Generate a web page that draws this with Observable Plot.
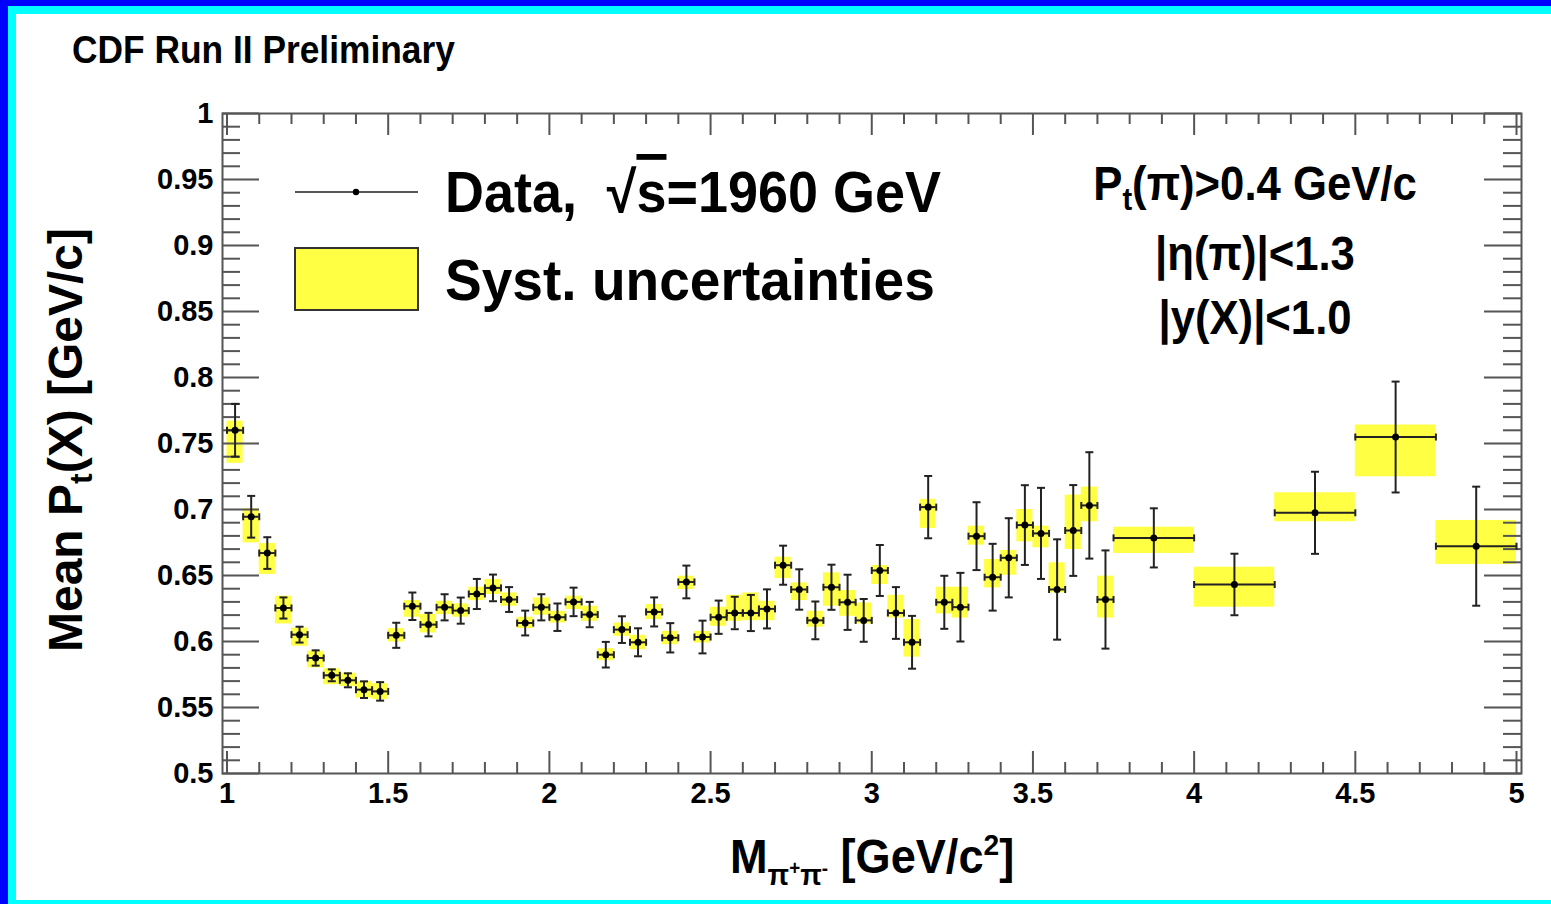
<!DOCTYPE html>
<html><head><meta charset="utf-8">
<script src="https://cdn.jsdelivr.net/npm/d3@7"></script>
<script src="https://cdn.jsdelivr.net/npm/@observablehq/plot@0.6"></script>
<style>
html,body{margin:0;padding:0;background:#fff;}
#wrap{position:relative;width:1551px;height:904px;overflow:hidden;background:#fff;}
#chart{position:absolute;left:0;top:0;}
.ov{position:absolute;left:0;top:0;pointer-events:none;}
.bar{position:absolute;}
.ov text{white-space:pre;}
</style></head>
<body>
<div id="wrap">
<div id="chart"></div>
<svg class="ov" width="1551" height="904" xmlns="http://www.w3.org/2000/svg">
<g font-family="'Liberation Sans', Arial, Helvetica, sans-serif" font-weight="bold" fill="#000">
  <text transform="translate(72,63) scale(0.93,1)" font-size="38">CDF Run II Preliminary</text>
  <line x1="295" x2="418" y1="192" y2="192" stroke="#555" stroke-width="2"/>
  <circle cx="356" cy="192" r="3.2" fill="#000"/>
  <rect x="295" y="248" width="123" height="62" fill="#ffff44" stroke="#333" stroke-width="2"/>
  <text transform="translate(445,212) scale(0.93,1)" font-size="58">Data,  √<tspan text-decoration="overline">s</tspan>=1960 GeV</text>
  <text transform="translate(445,300) scale(0.95,1)" font-size="58">Syst. uncertainties</text>
  <text transform="translate(1255,200) scale(0.91,1)" text-anchor="middle" font-size="48">P<tspan font-size="32" dy="10">t</tspan><tspan dy="-10">(π)&gt;0.4 GeV/c</tspan></text>
  <text transform="translate(1255,270) scale(0.91,1)" text-anchor="middle" font-size="48">|η(π)|&lt;1.3</text>
  <text transform="translate(1255,334) scale(0.91,1)" text-anchor="middle" font-size="48">|y(X)|&lt;1.0</text>
  <text transform="translate(82,440) rotate(-90)" text-anchor="middle" font-size="48">Mean P<tspan font-size="32" dy="10">t</tspan><tspan dy="-10">(X) [GeV/c]</tspan></text>
  <text transform="translate(730,873) scale(0.94,1)" font-size="48">M<tspan font-size="30" dy="12">π</tspan><tspan font-size="20" dy="-10">+</tspan><tspan font-size="30" dy="10">π</tspan><tspan font-size="20" dy="-10">-</tspan><tspan font-size="48" dy="-2"> [GeV/c</tspan><tspan font-size="30" dy="-18">2</tspan><tspan font-size="48" dy="18">]</tspan></text>
</g>
</svg>
<div class="bar" style="left:0;top:0;width:1551px;height:6px;background:#0000ff"></div>
<div class="bar" style="left:0;top:0;width:8px;height:904px;background:#0000ff"></div>
<div class="bar" style="left:8px;top:6px;width:1543px;height:8px;background:#00ffff"></div>
<div class="bar" style="left:8px;top:6px;width:8px;height:898px;background:#00ffff"></div>
<div class="bar" style="left:8px;top:900px;width:1543px;height:4px;background:#00ffff"></div>
</div>
<script>
// ---- data ----
const mass = [1.025,1.075,1.125,1.175,1.225,1.275,1.325,1.375,1.425,1.475,
  1.525,1.575,1.625,1.675,1.725,1.775,1.825,1.875,1.925,1.975,
  2.025,2.075,2.125,2.175,2.225,2.275,2.325,2.375,2.425,2.475,
  2.525,2.575,2.625,2.675,2.725,2.775,2.825,2.875,2.925,2.975,
  3.025,3.075,3.125,3.175,3.225,3.275,3.325,3.375,3.425,3.475,
  3.525,3.575,3.625,3.675,3.725,
  3.875,4.125,4.375,4.625,4.875];
const halfWidth = [0.025,0.025,0.025,0.025,0.025,0.025,0.025,0.025,0.025,0.025,
  0.025,0.025,0.025,0.025,0.025,0.025,0.025,0.025,0.025,0.025,
  0.025,0.025,0.025,0.025,0.025,0.025,0.025,0.025,0.025,0.025,
  0.025,0.025,0.025,0.025,0.025,0.025,0.025,0.025,0.025,0.025,
  0.025,0.025,0.025,0.025,0.025,0.025,0.025,0.025,0.025,0.025,
  0.025,0.025,0.025,0.025,0.025,
  0.125,0.125,0.125,0.125,0.125];
const meanPt = [0.760,0.6945,0.667,0.6254,0.6052,0.5875,0.5744,0.5706,0.5635,0.5622,
  0.6047,0.6267,0.6128,0.6259,0.6234,0.636,0.6406,0.6318,0.614,0.6259,
  0.6184,0.630,0.6204,0.590,0.609,0.5994,0.6224,0.6028,0.6451,0.6034,
  0.6184,0.6216,0.6216,0.6247,0.6578,0.6394,0.616,0.6411,0.6297,0.616,
  0.6538,0.6216,0.5994,0.7018,0.6297,0.626,0.6798,0.6487,0.6634,0.6882,
  0.6819,0.6394,0.6841,0.7031,0.6318,
  0.6785,0.6432,0.6975,0.7549,0.6722];
const statErr = [0.020,0.0158,0.012,0.008,0.006,0.0058,0.0045,0.0053,0.0063,0.007,
  0.0095,0.0104,0.0089,0.0099,0.0099,0.0114,0.0101,0.0094,0.0094,0.0099,
  0.0104,0.0108,0.0096,0.0097,0.0101,0.0106,0.011,0.0111,0.0124,0.0124,
  0.0126,0.0123,0.0137,0.0148,0.0148,0.0153,0.0143,0.0171,0.0209,0.0162,
  0.0193,0.0196,0.020,0.0236,0.0201,0.026,0.0257,0.0253,0.030,0.0302,
  0.0345,0.038,0.0344,0.0403,0.0372,
  0.0224,0.0233,0.0311,0.042,0.0451];
const systLow = [0.735,0.6747,0.6508,0.6133,0.5964,0.580,0.5673,0.566,0.5571,0.556,
  0.5996,0.6184,0.6065,0.6204,0.6184,0.631,0.6356,0.6267,0.6098,0.6199,
  0.614,0.6242,0.6153,0.5855,0.6039,0.5938,0.6166,0.5976,0.6394,0.5989,
  0.6115,0.6153,0.6158,0.6158,0.6477,0.631,0.6108,0.6267,0.6191,0.6133,
  0.6432,0.6178,0.5882,0.6857,0.6209,0.6178,0.673,0.6406,0.6502,0.6755,
  0.671,0.6368,0.6697,0.6907,0.6178,
  0.6667,0.626,0.6907,0.7248,0.6583];
const systHigh = [0.767,0.7005,0.6743,0.6343,0.6102,0.5926,0.5794,0.576,0.5698,0.568,
  0.6098,0.631,0.6204,0.6305,0.6285,0.6411,0.647,0.6368,0.6184,0.633,
  0.6229,0.6343,0.6267,0.5946,0.614,0.6047,0.628,0.6077,0.6495,0.6077,
  0.6259,0.635,0.6368,0.6305,0.6639,0.6444,0.6229,0.652,0.6386,0.6292,
  0.6576,0.635,0.6166,0.7077,0.6411,0.6411,0.6874,0.6621,0.669,0.700,
  0.6874,0.6596,0.7109,0.717,0.6495,
  0.6866,0.6563,0.7127,0.764,0.6917];
const xTickValues = [1,1.5,2,2.5,3,3.5,4,4.5,5];
const xTickLabels = ["1","1.5","2","2.5","3","3.5","4","4.5","5"];
const yTickValues = [0.5,0.55,0.6,0.65,0.7,0.75,0.8,0.85,0.9,0.95,1];
const yTickLabels = ["0.5","0.55","0.6","0.65","0.7","0.75","0.8","0.85","0.9","0.95","1"];

// ---- layout ----
const W = 1551, H = 904;
const mL = 222, mR = 30, mT = 113, mB = 131;
const frameW = W - mL - mR, frameH = H - mT - mB;
const xMinor = d3.range(10, 51).map(k => k / 10).filter(v => !xTickValues.some(t => Math.abs(t - v) < 1e-9));
const yMinor = d3.range(50, 101).map(k => k / 100).filter(v => !yTickValues.some(t => Math.abs(t - v) < 1e-9));

const rows = mass.map((m, i) => ({
  m, lo: m - halfWidth[i], hi: m + halfWidth[i],
  v: meanPt[i], e: statErr[i], sl: systLow[i], sh: systHigh[i]
}));

const hCap = {draw(ctx, size) { const r = Math.sqrt(size / Math.PI); ctx.moveTo(-r, 0); ctx.lineTo(r, 0); }};
const vCap = {draw(ctx, size) { const r = Math.sqrt(size / Math.PI); ctx.moveTo(0, -r); ctx.lineTo(0, r); }};
const ink = "#222";
const axisInk = "#555";
const font = "'Liberation Sans', Arial, Helvetica, sans-serif";

const chart = Plot.plot({
  width: W, height: H,
  marginLeft: mL, marginRight: mR, marginTop: mT, marginBottom: mB,
  x: {domain: [0.986, 5.0155], axis: null},
  y: {domain: [0.5, 1], axis: null},
  style: {background: "#fff", fontFamily: font, color: "#000"},
  marks: [
    Plot.rect(rows, {x1: "lo", x2: "hi", y1: "sl", y2: "sh", fill: "#ffff44"}),
    // frame ticks
    Plot.tickX(xMinor, {x: d => d, insetTop: frameH - 11, stroke: axisInk, strokeWidth: 2}),
    Plot.tickX(xMinor, {x: d => d, insetBottom: frameH - 11, stroke: axisInk, strokeWidth: 2}),
    Plot.tickX(xTickValues, {x: d => d, insetTop: frameH - 22, stroke: axisInk, strokeWidth: 2}),
    Plot.tickX(xTickValues, {x: d => d, insetBottom: frameH - 22, stroke: axisInk, strokeWidth: 2}),
    Plot.tickY(yMinor, {y: d => d, insetRight: frameW - 18, stroke: axisInk, strokeWidth: 2}),
    Plot.tickY(yMinor, {y: d => d, insetLeft: frameW - 18, stroke: axisInk, strokeWidth: 2}),
    Plot.tickY(yTickValues, {y: d => d, insetRight: frameW - 37, stroke: axisInk, strokeWidth: 2}),
    Plot.tickY(yTickValues, {y: d => d, insetLeft: frameW - 37, stroke: axisInk, strokeWidth: 2}),
    Plot.frame({stroke: axisInk, strokeWidth: 2}),
    // data: stat error bars
    Plot.ruleY(rows, {y: "v", x1: "lo", x2: "hi", stroke: ink, strokeWidth: 2}),
    Plot.ruleX(rows, {x: "m", y1: d => d.v - d.e, y2: d => d.v + d.e, stroke: ink, strokeWidth: 2}),
    Plot.dot(rows, {x: "m", y: d => d.v + d.e, symbol: hCap, r: 4, stroke: ink, strokeWidth: 2, fill: "none"}),
    Plot.dot(rows, {x: "m", y: d => d.v - d.e, symbol: hCap, r: 4, stroke: ink, strokeWidth: 2, fill: "none"}),
    Plot.dot(rows, {x: "lo", y: "v", symbol: vCap, r: 3.5, stroke: ink, strokeWidth: 2, fill: "none"}),
    Plot.dot(rows, {x: "hi", y: "v", symbol: vCap, r: 3.5, stroke: ink, strokeWidth: 2, fill: "none"}),
    Plot.dot(rows, {x: "m", y: "v", r: 3.5, fill: "#000", stroke: "none"}),
    // tick labels
    Plot.text(yTickValues, {y: d => d, text: (d, i) => yTickLabels[i], frameAnchor: "left", textAnchor: "end", dx: -9, fontSize: 29, fontWeight: "bold", fill: "#000"}),
    Plot.text(xTickValues, {x: d => d, text: (d, i) => xTickLabels[i], frameAnchor: "bottom", lineAnchor: "top", dy: 9, fontSize: 29, fontWeight: "bold", fill: "#000"})
  ]
});
document.getElementById("chart").appendChild(chart);
</script>
</body></html>
